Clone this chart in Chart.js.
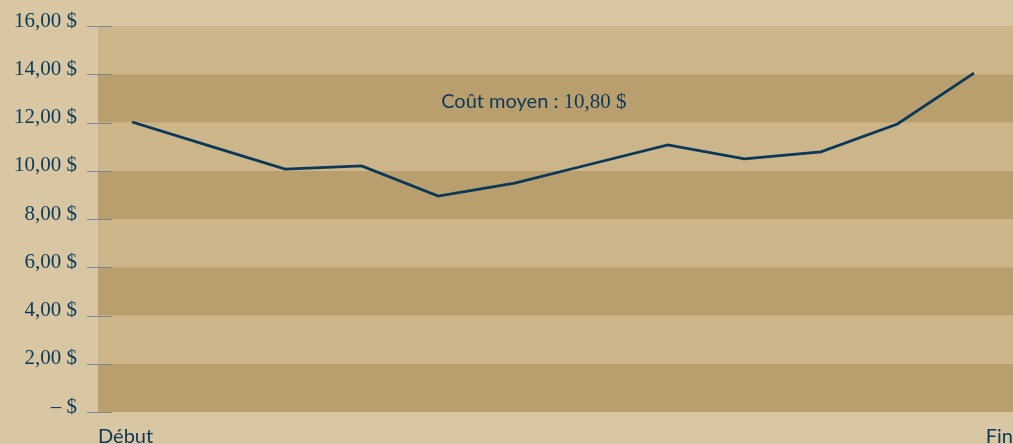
<!doctype html>
<html lang="fr">
<head>
<meta charset="utf-8">
<title>Coût moyen</title>
<style>
  * { margin: 0; padding: 0; }
  body { background: #D9C7A4; }
  .chartBox { width: 1013px; height: 444px; }
</style>
</head>
<body>
<div class="chartBox"><canvas id="myChart"></canvas></div>
<script src="https://cdn.jsdelivr.net/npm/chart.js"></script>
<script>
// data
const steps = [0, 1, 2, 3, 4, 5, 6, 7, 8, 9, 10, 11];
const costs = [12.02, 11.04, 10.07, 10.2, 8.95, 9.49, 10.28, 11.07, 10.49, 10.78, 11.94, 14.05];
const yTickValues = [0, 2, 4, 6, 8, 10, 12, 14, 16];
const yTickLabels = ['– $', '2,00 $', '4,00 $', '6,00 $', '8,00 $', '10,00 $', '12,00 $', '14,00 $', '16,00 $'];
const xLabels = ['Début', 'Fin'];
const avgLabel = 'Coût moyen : ';
const avgValue = '10,80 $';

const NAVY = '#0B3858';
const LIGHT = '#CDB58A';
const DARK = '#B99F6D';
const SANS = 'Lato';
const SERIF = 'Liberation Serif';

// alternating horizontal bands + small tick marks on the y axis
const bands = {
  id: 'bands',
  beforeDatasetsDraw(chart) {
    const { ctx, chartArea, scales: { y } } = chart;
    ctx.save();
    for (let i = 0; i < yTickValues.length - 1; i++) {
      const v = yTickValues[i];
      const top = y.getPixelForValue(yTickValues[i + 1]);
      const bot = y.getPixelForValue(v);
      ctx.fillStyle = (v / 2) % 2 === 0 ? DARK : LIGHT;
      ctx.fillRect(chartArea.left, top, chartArea.right - chartArea.left, bot - top);
    }
    ctx.strokeStyle = '#7C8790';
    ctx.lineWidth = 1;
    yTickValues.forEach(v => {
      const py = Math.round(y.getPixelForValue(v)) + 0.5;
      ctx.beginPath();
      ctx.moveTo(chartArea.left - 11, py);
      ctx.lineTo(chartArea.left + 14, py);
      ctx.stroke();
    });
    ctx.restore();
  }
};

const avgNote = {
  id: 'avgNote',
  afterDraw(chart) {
    const { ctx, scales: { x, y } } = chart;
    ctx.save();
    const fSans = '20px ' + SANS;
    const fSerif = '21px "' + SERIF + '"';
    ctx.font = fSans;
    const w1 = ctx.measureText(avgLabel).width;
    ctx.font = fSerif;
    const w2 = ctx.measureText(avgValue).width;
    const cx = x.getPixelForValue(5.25);
    const cy = y.getPixelForValue(12.85);
    let left = cx - (w1 + w2) / 2;
    ctx.fillStyle = NAVY;
    ctx.textBaseline = 'middle';
    ctx.textAlign = 'left';
    ctx.font = fSans;
    ctx.fillText(avgLabel, left, cy);
    ctx.font = fSerif;
    ctx.fillText(avgValue, left + w1, cy);
    ctx.restore();
  }
};

const noPad = (scale) => {
  scale.paddingTop = 0;
  scale.paddingBottom = 0;
  scale.paddingLeft = 0;
  scale.paddingRight = 0;
};

const data = {
  datasets: [{
    label: 'Coût',
    data: steps.map((s, i) => ({ x: s, y: costs[i] })),
    borderColor: NAVY,
    borderWidth: 2.8,
    pointRadius: 0,
    tension: 0
  }]
};

const config = {
  type: 'line',
  data,
  options: {
    responsive: true,
    maintainAspectRatio: false,
    animation: false,
    layout: { autoPadding: false, padding: { top: 26, right: 0, bottom: 0, left: 0 } },
    plugins: { legend: { display: false }, tooltip: { enabled: false } },
    scales: {
      x: {
        type: 'linear',
        min: -0.445,
        max: 11.51,
        grid: { display: false, drawTicks: false },
        border: { display: false },
        afterBuildTicks: (scale) => {
          scale.ticks = [{ value: scale.min }, { value: scale.max }];
        },
        afterFit: (scale) => { scale.height = 32; noPad(scale); },
        ticks: {
          align: 'inner',
          autoSkip: false,
          maxRotation: 0,
          padding: 13,
          color: NAVY,
          font: { family: SANS, size: 20 },
          callback: (value, index) => xLabels[index]
        }
      },
      y: {
        min: 0,
        max: 16,
        grid: { display: false, drawTicks: false },
        border: { display: false },
        afterBuildTicks: (scale) => {
          scale.ticks = yTickValues.map(v => ({ value: v }));
        },
        afterFit: (scale) => { scale.width = 98; noPad(scale); },
        ticks: {
          padding: 21,
          labelOffset: -5,
          color: NAVY,
          font: { family: SERIF, size: 21 },
          callback: (value, index) => yTickLabels[index]
        }
      }
    }
  },
  plugins: [bands, avgNote]
};

const myChart = new Chart(document.getElementById('myChart'), config);
</script>
</body>
</html>
